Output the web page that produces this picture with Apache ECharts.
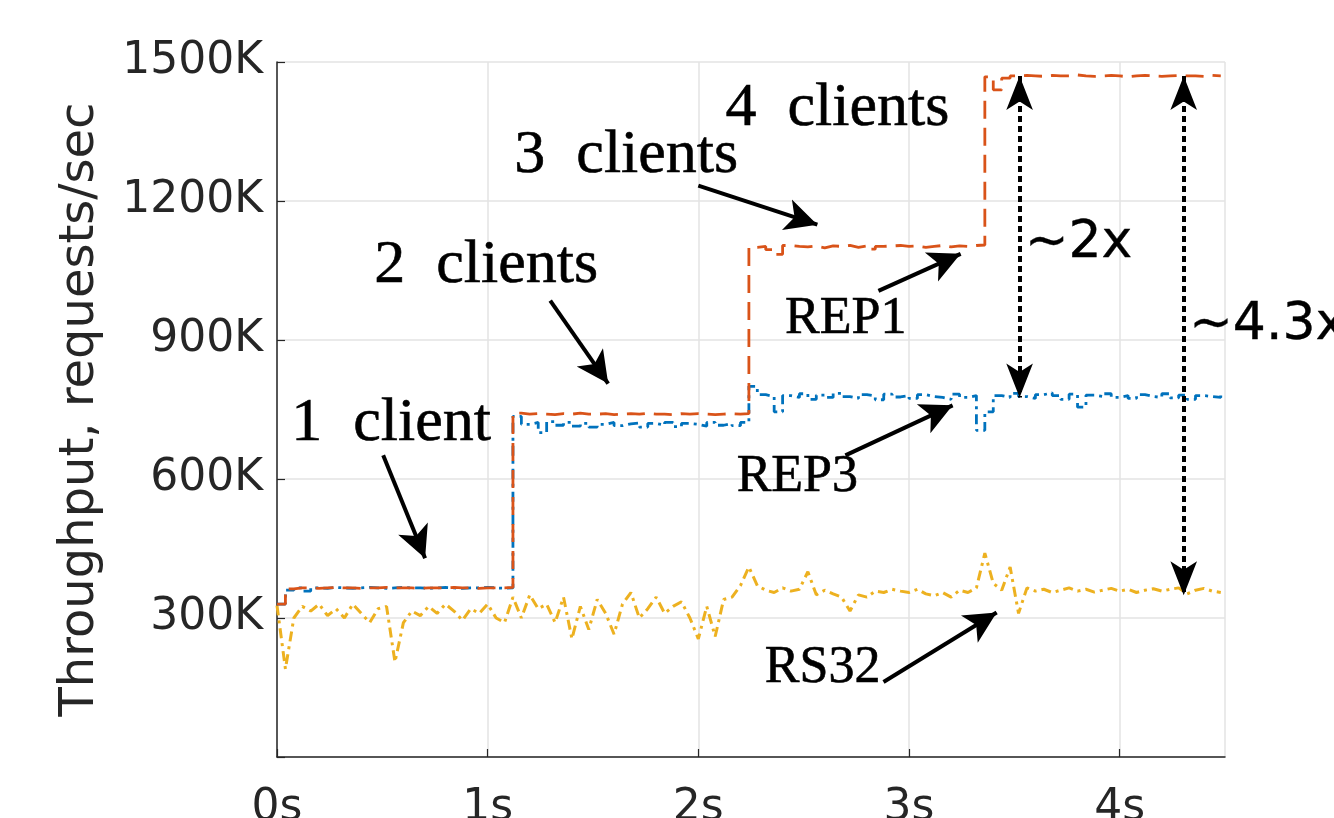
<!DOCTYPE html>
<html>
<head>
<meta charset="utf-8">
<script src="https://cdn.jsdelivr.net/npm/echarts@6/dist/echarts.min.js"></script>
<style>
html,body{margin:0;padding:0;background:#fff;overflow:hidden;}
#chart{width:1334px;height:818px;}
</style>
</head>
<body>
<div id="chart"></div>
<script>
// ---- data ----
var times = [0,0.04,0.08,0.12,0.16,0.2,0.24,0.28,0.32,0.36,0.4,0.44,0.48,0.52,0.56,0.6,0.64,0.68,0.72,0.76,0.8,0.84,0.88,0.92,0.96,1.0,1.04,1.08,
1.12,1.16,1.2,1.24,1.28,1.32,1.36,1.4,1.44,1.48,1.52,1.56,1.6,1.64,1.68,1.72,1.76,1.8,1.84,1.88,1.92,1.96,2.0,2.04,2.08,2.12,2.16,2.2,
2.24,2.28,2.32,2.36,2.4,2.44,2.48,2.52,2.56,2.6,2.64,2.68,2.72,2.76,2.8,2.84,2.88,2.92,2.96,3.0,3.04,3.08,3.12,3.16,3.2,3.24,3.28,3.32,
3.36,3.4,3.44,3.48,3.52,3.56,3.6,3.64,3.68,3.72,3.76,3.8,3.84,3.88,3.92,3.96,4.0,4.04,4.08,4.12,4.16,4.2,4.24,4.28,4.32,4.36,4.4,4.44,4.48];

var rep1 = [330,363,365,365,364,365,366,365,365,364,365,365,366,365,365,365,364,365,365,365,366,365,365,364,365,365,365,366,
742,740,741,740,739,741,740,742,740,740,741,739,740,741,740,742,740,740,739,741,740,741,740,739,740,741,740,741,
1100,1102,1095,1085,1104,1102,1101,1103,1099,1103,1102,1104,1100,1103,1096,1102,1103,1104,1102,1103,1100,1102,1104,1101,1103,1102,1104,1105,
1468,1440,1465,1470,1471,1470,1469,1471,1470,1470,1472,1470,1469,1470,1471,1470,1468,1470,1471,1470,1469,1470,1471,1470,1470,1469,1471,1470,1470];

var rep3 = [330,360,365,358,365,364,366,365,364,365,366,365,364,365,366,365,365,364,365,366,365,364,365,365,366,365,364,365,
735,718,722,700,724,716,722,714,720,712,718,722,715,719,721,712,720,716,722,713,720,718,714,722,716,720,715,722,
800,782,778,745,780,776,784,772,781,776,785,778,774,782,779,771,783,777,780,774,782,778,776,772,783,776,780,705,
745,780,776,785,778,774,782,786,780,772,783,755,781,778,784,776,780,774,782,778,776,784,775,781,772,780,778,776,780];

var rs32 = [327,190,300,325,315,330,305,320,300,330,310,290,320,325,205,290,315,305,325,310,330,315,295,320,310,330,300,290,
345,300,350,320,330,290,345,255,325,275,340,310,265,330,355,300,320,345,310,325,335,300,255,325,260,340,345,370,
410,370,360,355,365,358,362,400,350,360,352,345,315,350,345,358,355,362,358,355,362,352,348,355,345,360,355,365,
440,375,360,410,310,365,358,362,355,360,365,358,362,356,360,364,358,362,355,360,363,358,362,365,352,360,364,358,355];

var xTicks = [0,1,2,3,4];
var yTicks = [0,300,600,900,1200,1500];

// annotation texts (data coordinates)
var noteText = ['1  client','2  clients','3  clients','4  clients','REP1','REP3','RS32'];
var noteX    = [0.542, 0.993, 1.658, 2.66, 2.70, 2.47, 2.59];
var noteY    = [720, 1060, 1297, 1399, 944, 603, 192];
var ratioText = ['~2x','~4.3x'];
var ratioX    = [3.548, 4.328];
var ratioY    = [1108, 931];

// arrows
var arrowFrom = [[0.504,651],[1.297,985],[2.000,1233],[3.017,1466],[2.855,1006],[2.698,651],[2.879,162]];
var arrowTo   = [[0.703,429],[1.572,806],[2.565,1149],[3.420,1539],[3.245,1086],[3.207,759],[3.416,312]];
var ratioArrowX = [3.525, 4.304];
var ratioArrowTop = [1470, 1470];
var ratioArrowBottom = [776, 349];

// ---- build ----
function zip(a,b){ var r=[]; for(var i=0;i<a.length;i++) r.push([a[i],b[i]]); return r; }

var textColor = '#262626';
var chart = echarts.init(document.getElementById('chart'), null, {renderer:'canvas', width:1334, height:818});

var arrowLines = [];
for (var i=0;i<arrowFrom.length;i++){
  arrowLines.push([{coord:arrowFrom[i], symbol:'none'},{coord:arrowTo[i], symbol:'arrow', symbolSize:[24,32]}]);
}
var ratioLines = [];
for (var j=0;j<ratioArrowX.length;j++){
  ratioLines.push([{coord:[ratioArrowX[j],ratioArrowTop[j]], symbol:'arrow', symbolSize:[20,34]},
                   {coord:[ratioArrowX[j],ratioArrowBottom[j]], symbol:'arrow', symbolSize:[20,34]}]);
}

var noteData = [];
for (var k=0;k<noteText.length;k++){
  noteData.push({value:[noteX[k],noteY[k]], label:{show:true, position:'inside', formatter:noteText[k],
    fontFamily:'Liberation Serif', fontSize:(k<4?62:52), color:'#000', opacity:1,
    textBorderColor:'#000', textBorderWidth:0.6}});
}
for (var m=0;m<ratioText.length;m++){
  noteData.push({value:[ratioX[m],ratioY[m]], label:{show:true, position:'right', distance:0, formatter:ratioText[m],
    fontFamily:'DejaVu Sans', fontSize:52, color:'#000', opacity:1,
    textBorderColor:'#000', textBorderWidth:0.4}});
}

var option = {
  animation:false,
  backgroundColor:'#fff',
  grid:{left:277, right:109, top:62, bottom:61, containLabel:false, outerBoundsMode:'none'},
  xAxis:{
    type:'value', min:0, max:4.5, interval:1,
    axisLine:{show:true, lineStyle:{color:textColor, width:1.5}},
    axisTick:{show:true, inside:true, length:8, lineStyle:{color:textColor, width:1.2}},
    axisLabel:{fontFamily:'DejaVu Sans', fontSize:44, color:textColor, margin:30,
      formatter:function(v){ return xTicks.indexOf(v)>=0 ? v+'s' : ''; }, showMaxLabel:false},
    splitLine:{show:true, lineStyle:{color:'#e3e3e3', width:1.5}}
  },
  yAxis:{
    type:'value', min:0, max:1500, interval:300,
    name:'Throughput, requests/sec', nameLocation:'middle', nameGap:172, nameRotate:90,
    nameTextStyle:{fontFamily:'DejaVu Sans', fontSize:48, color:textColor},
    axisLine:{show:true, lineStyle:{color:textColor, width:1.5}},
    axisTick:{show:true, inside:true, length:8, lineStyle:{color:textColor, width:1.2}},
    axisLabel:{fontFamily:'DejaVu Sans', fontSize:44, color:textColor, margin:14,
      formatter:function(v){ return (v===0 || yTicks.indexOf(v)<0) ? '' : v+'K'; }},
    splitLine:{show:true, lineStyle:{color:'#e3e3e3', width:1.5}}
  },
  series:[
    {name:'RS32', type:'line', data:zip(times,rs32), showSymbol:false, symbol:'none',
     lineStyle:{color:'#EDB120', width:3, type:[10,5,3,5]}, z:2},
    {name:'REP3', type:'line', data:zip(times,rep3), showSymbol:false, symbol:'none', step:'end',
     lineStyle:{color:'#0072BD', width:2.8, type:[10,5,3,5]}, z:3},
    {name:'REP1', type:'line', data:zip(times,rep1), showSymbol:false, symbol:'none', step:'end',
     lineStyle:{color:'#D95319', width:2.8, type:[18,9]}, z:4},
    {name:'annotations', type:'scatter', data:noteData, symbolSize:1, itemStyle:{color:'#fff', opacity:1},
     z:10, silent:true,
     markLine:{silent:true, symbol:['none','arrow'], label:{show:false},
       lineStyle:{color:'#000', width:4, type:'solid'}, data:arrowLines}},
    {name:'ratios', type:'line', data:[], z:10, silent:true,
     markLine:{silent:true, label:{show:false},
       lineStyle:{color:'#000', width:4, type:[6,4]}, data:ratioLines}}
  ]
};
chart.setOption(option);
</script>
</body>
</html>
